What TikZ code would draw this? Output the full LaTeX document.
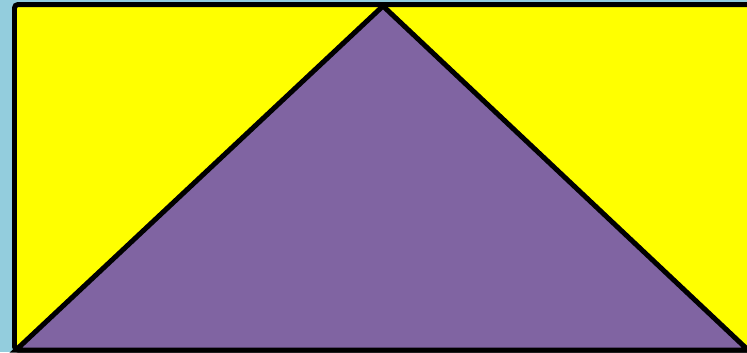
\documentclass[tikz,border=0pt]{standalone}
\usepackage{xcolor}
\usepackage{tikz}
\definecolor{skyback}{HTML}{93CDDD}
\definecolor{wallyellow}{HTML}{FFFF00}
\definecolor{roofpurple}{HTML}{8064A2}
\begin{document}
\begin{tikzpicture}[x=0.02cm, y=-0.02cm,
  outline/.style={draw=black, line width=0.1cm},
  panel/.style={outline, fill=wallyellow, rounded corners=2pt},
  roof/.style={outline, fill=roofpurple, line join=miter}
]
\fill[skyback] (0,0) rectangle (747,352);
\useasboundingbox (0,0) rectangle (747,352);
\clip (0,0) rectangle (747,352);
% corners of the panel and the triangle
\coordinate (topleft) at (14.5,4.5);
\coordinate (botright) at (770,350);
\coordinate (baseleft) at (16,350);
\coordinate (apex) at (383,6);
\coordinate (baseright) at (748,350);

\draw[panel] (topleft) rectangle (botright);
\draw[roof] (baseleft) -- (apex) -- (baseright) -- cycle;
\end{tikzpicture}
\end{document}
